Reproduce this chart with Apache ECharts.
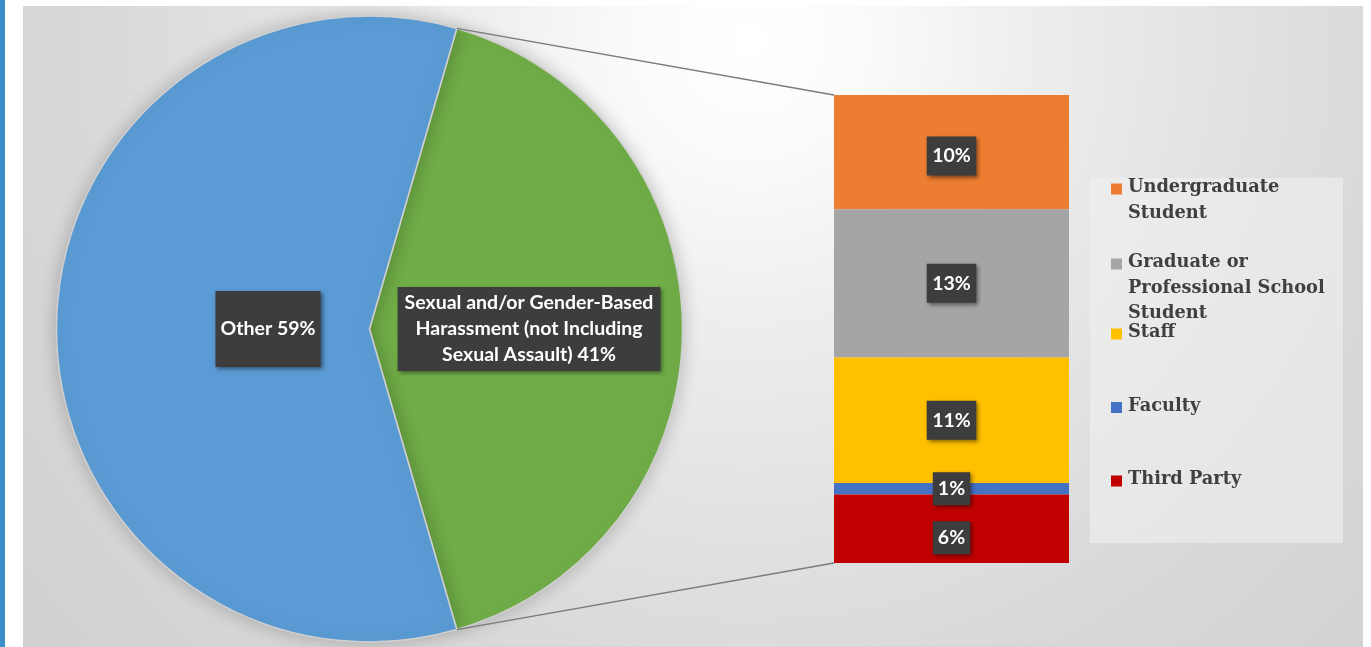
<!DOCTYPE html>
<html>
<head>
<meta charset="utf-8">
<title>Reports by type and complainant</title>
<script src="https://cdn.jsdelivr.net/npm/echarts@6/dist/echarts.min.js"></script>
<style>
  html, body { margin: 0; padding: 0; background: #ffffff; width: 1371px; height: 647px; overflow: hidden; }
  #edge { position: absolute; left: 0; top: 0; width: 5px; height: 647px; background: #3a8fc8; }
  #chart { position: absolute; left: 23px; top: 6px; width: 1340px; height: 641px; }
</style>
</head>
<body>
<div id="edge"></div>
<div id="chart"></div>
<script>
// Pie: share of all reports
const pieNames = ['Sexual and/or Gender-Based\nHarassment (not Including\nSexual Assault)', 'Other'];
const pieValues = [41, 59];
const pieColors = ['#70AD47', '#5B9BD5'];

// Bar: harassment reports broken down by complainant (top to bottom)
const barNames = ['Undergraduate\nStudent', 'Graduate or\nProfessional School\nStudent', 'Staff', 'Faculty', 'Third Party'];
const barValues = [10, 13, 11, 1, 6];
const barColors = ['#ED7D31', '#A5A5A5', '#FFC000', '#4472C4', '#C00000'];

// layout (px inside the chart box)
const pieCenter = [346.5, 323];
const pieRadius = 313;
const grid = { left: 811, top: 89, width: 235, height: 468 };
const legendMarkY = [183, 258, 328, 401.5, 475];

const pieTotal = pieValues.reduce((a, b) => a + b, 0);
const startAngle = 360 * pieValues[0] / pieTotal / 2;
const barTotal = barValues.reduce((a, b) => a + b, 0);

const labelBox = {
  color: '#ffffff',
  fontFamily: 'Lato',
  fontWeight: 'bold',
  fontSize: 19.5,
  lineHeight: 26,
  backgroundColor: '#3d3d3d',
  shadowColor: 'rgba(0,0,0,0.45)',
  shadowBlur: 4,
  shadowOffsetX: 2,
  shadowOffsetY: 2
};

const chart = echarts.init(document.getElementById('chart'), null, { renderer: 'canvas' });

// connector lines from the pie slice edges to the bar's left corners
const rad = startAngle * Math.PI / 180;
const pTop = [pieCenter[0] + pieRadius * Math.cos(rad), pieCenter[1] - pieRadius * Math.sin(rad)];
const pBot = [pieCenter[0] + pieRadius * Math.cos(rad), pieCenter[1] + pieRadius * Math.sin(rad)];

const graphics = [
  { type: 'rect', z: -1, shape: { x: 1067, y: 172, width: 253, height: 365 }, style: { fill: 'rgba(240,240,240,0.6)' } },
  { type: 'line', z: 5, shape: { x1: pTop[0], y1: pTop[1], x2: grid.left, y2: grid.top }, style: { stroke: '#7a7a7a', lineWidth: 1.3 } },
  { type: 'line', z: 5, shape: { x1: pBot[0], y1: pBot[1], x2: grid.left, y2: grid.top + grid.height }, style: { stroke: '#7a7a7a', lineWidth: 1.3 } }
];
barNames.forEach((n, i) => {
  graphics.push({ type: 'rect', z: 10, shape: { x: 1088, y: legendMarkY[i] - 5.5, width: 11, height: 11 }, style: { fill: barColors[i] } });
  graphics.push({
    type: 'text', z: 10, x: 1105, y: legendMarkY[i] - 14,
    style: { text: n, fill: '#404040', font: 'bold 17.8px "DejaVu Serif"', lineHeight: 25.5, verticalAlign: 'top', align: 'left' }
  });
});

chart.setOption({
  backgroundColor: {
    type: 'radial', x: 727, y: 34, r: 920, global: true,
    colorStops: [
      { offset: 0, color: '#ffffff' },
      { offset: 0.12, color: '#fbfbfb' },
      { offset: 0.3, color: '#eeeeee' },
      { offset: 0.5, color: '#e3e3e3' },
      { offset: 0.7, color: '#d9d9d9' },
      { offset: 1, color: '#d1d1d1' }
    ]
  },
  animation: false,
  grid: grid,
  xAxis: { type: 'category', data: ['Harassment'], show: false },
  yAxis: { type: 'value', min: 0, max: barTotal, inverse: true, show: false },
  graphic: graphics,
  series: [
    {
      type: 'pie',
      center: pieCenter,
      radius: pieRadius,
      startAngle: startAngle,
      clockwise: true,
      avoidLabelOverlap: false,
      itemStyle: { borderColor: '#d0d0d0', borderWidth: 1.5, shadowColor: 'rgba(0,0,0,0.22)', shadowBlur: 18 },
      label: Object.assign({ show: true, position: 'inside', formatter: '{b} {c}%', padding: [3, 7] }, labelBox),
      labelLayout: function (p) { return p.dataIndex === 1 ? { dx: 58 } : {}; },
      emphasis: { disabled: true },
      data: pieNames.map((n, i) => ({
        name: n, value: pieValues[i], itemStyle: { color: pieColors[i] },
        label: i === 1 ? { padding: [25, 5] } : {}
      }))
    }
  ].concat(barNames.map((n, i) => ({
    type: 'bar',
    name: n,
    stack: 'total',
    barWidth: '100%',
    data: [barValues[i]],
    itemStyle: { color: barColors[i] },
    emphasis: { disabled: true },
    label: Object.assign({
      show: true, position: 'inside', formatter: '{c}%',
      padding: barValues[i] < 5 || i === 4 ? [3.5, 5] : [6.5, 5.5],
      offset: i === 4 ? [0, 9] : (i === 0 ? [0, 4] : [0, 0])
    }, labelBox)
  })))
});
</script>
</body>
</html>
